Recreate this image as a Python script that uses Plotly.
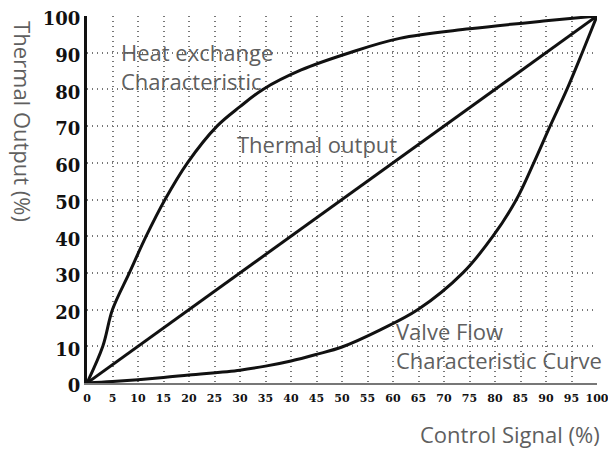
import plotly.graph_objects as go

# Heat exchange characteristic (control signal %, thermal output %)
heat_x = [0, 3.1, 5, 8.3, 11.6, 15.3, 19.7, 25.5, 30, 34.5, 42, 51.5, 61.3, 75, 90, 100]
heat_y = [0, 10, 20, 30, 40, 50, 60, 70, 75.3, 80, 85.3, 90, 93.9, 96.5, 98.7, 100]

# Linear thermal output
lin_x = [0, 100]
lin_y = [0, 100]

# Valve flow characteristic curve
valve_x = [0, 5, 15, 20, 30, 35, 40, 45, 50, 57.4, 64.9, 73.7, 79.6, 84.2, 87.6, 90.8, 94.1, 97.1, 100]
valve_y = [0, 0.4, 1.5, 2.2, 3.5, 4.6, 6, 7.8, 9.8, 14.4, 20, 30, 40, 50, 60, 70, 80, 90, 100]

x_ticks = list(range(0, 101, 5))
y_ticks = list(range(0, 101, 10))

line_style = dict(color="#111111", width=3, shape="spline", smoothing=1.0)

fig = go.Figure()
for xs, ys in [(heat_x, heat_y), (lin_x, lin_y), (valve_x, valve_y)]:
    fig.add_trace(go.Scatter(x=xs, y=ys, mode="lines", line=line_style,
                             cliponaxis=False, showlegend=False, hoverinfo="skip"))

text_color = "#5f5f5f"
sans = "Open Sans, sans-serif"
serif = "DejaVu Serif, serif"

fig.update_layout(
    width=608, height=441,
    margin=dict(l=79, r=19, t=8, b=66),
    paper_bgcolor="white", plot_bgcolor="white",
    xaxis=dict(range=[0, 100], tickvals=x_ticks, ticktext=[str(v) for v in x_ticks],
               showgrid=True, gridcolor="#777777", griddash="1px,4px", gridwidth=1.5,
               showline=True, linecolor="#777777", linewidth=2,
               ticks="", ticklabelstandoff=4, automargin=False,
               tickfont=dict(family=serif, size=11, color="#111111", weight="bold"),
               zeroline=False, fixedrange=True),
    yaxis=dict(range=[0, 100], tickvals=y_ticks, ticktext=[str(v) for v in y_ticks],
               showgrid=True, gridcolor="#777777", griddash="1px,4px", gridwidth=1.5,
               showline=True, linecolor="#111111", linewidth=3,
               ticks="", ticklabelstandoff=0, ticklabelshift=3, automargin=False,
               tickfont=dict(family=serif, size=18, color="#111111", weight="bold"),
               zeroline=False, fixedrange=True),
)

annotations = [
    dict(x=6.3, y=86.2, xref="x", yref="y", text="Heat exchange<br>Characteristic",
         xanchor="left", yanchor="middle", align="left", showarrow=False,
         font=dict(family=sans, size=22, color=text_color)),
    dict(x=29, y=65.1, xref="x", yref="y", text="Thermal output",
         xanchor="left", yanchor="middle", align="left", showarrow=False,
         font=dict(family=sans, size=22, color=text_color)),
    dict(x=60.2, y=10.2, xref="x", yref="y", text="Valve Flow<br>Characteristic Curve",
         xanchor="left", yanchor="middle", align="left", showarrow=False,
         font=dict(family=sans, size=22, color=text_color)),
    dict(x=-0.1255, y=0.711, xref="paper", yref="paper", text="Thermal Output (%)",
         textangle=90, xanchor="center", yanchor="middle", showarrow=False,
         font=dict(family=sans, size=22, color=text_color)),
    dict(x=1.0098, y=-0.139, xref="paper", yref="paper", text="Control Signal (%)",
         xanchor="right", yanchor="middle", showarrow=False,
         font=dict(family=sans, size=22, color=text_color)),
]
fig.update_layout(annotations=annotations)

fig.write_html("out.html")
